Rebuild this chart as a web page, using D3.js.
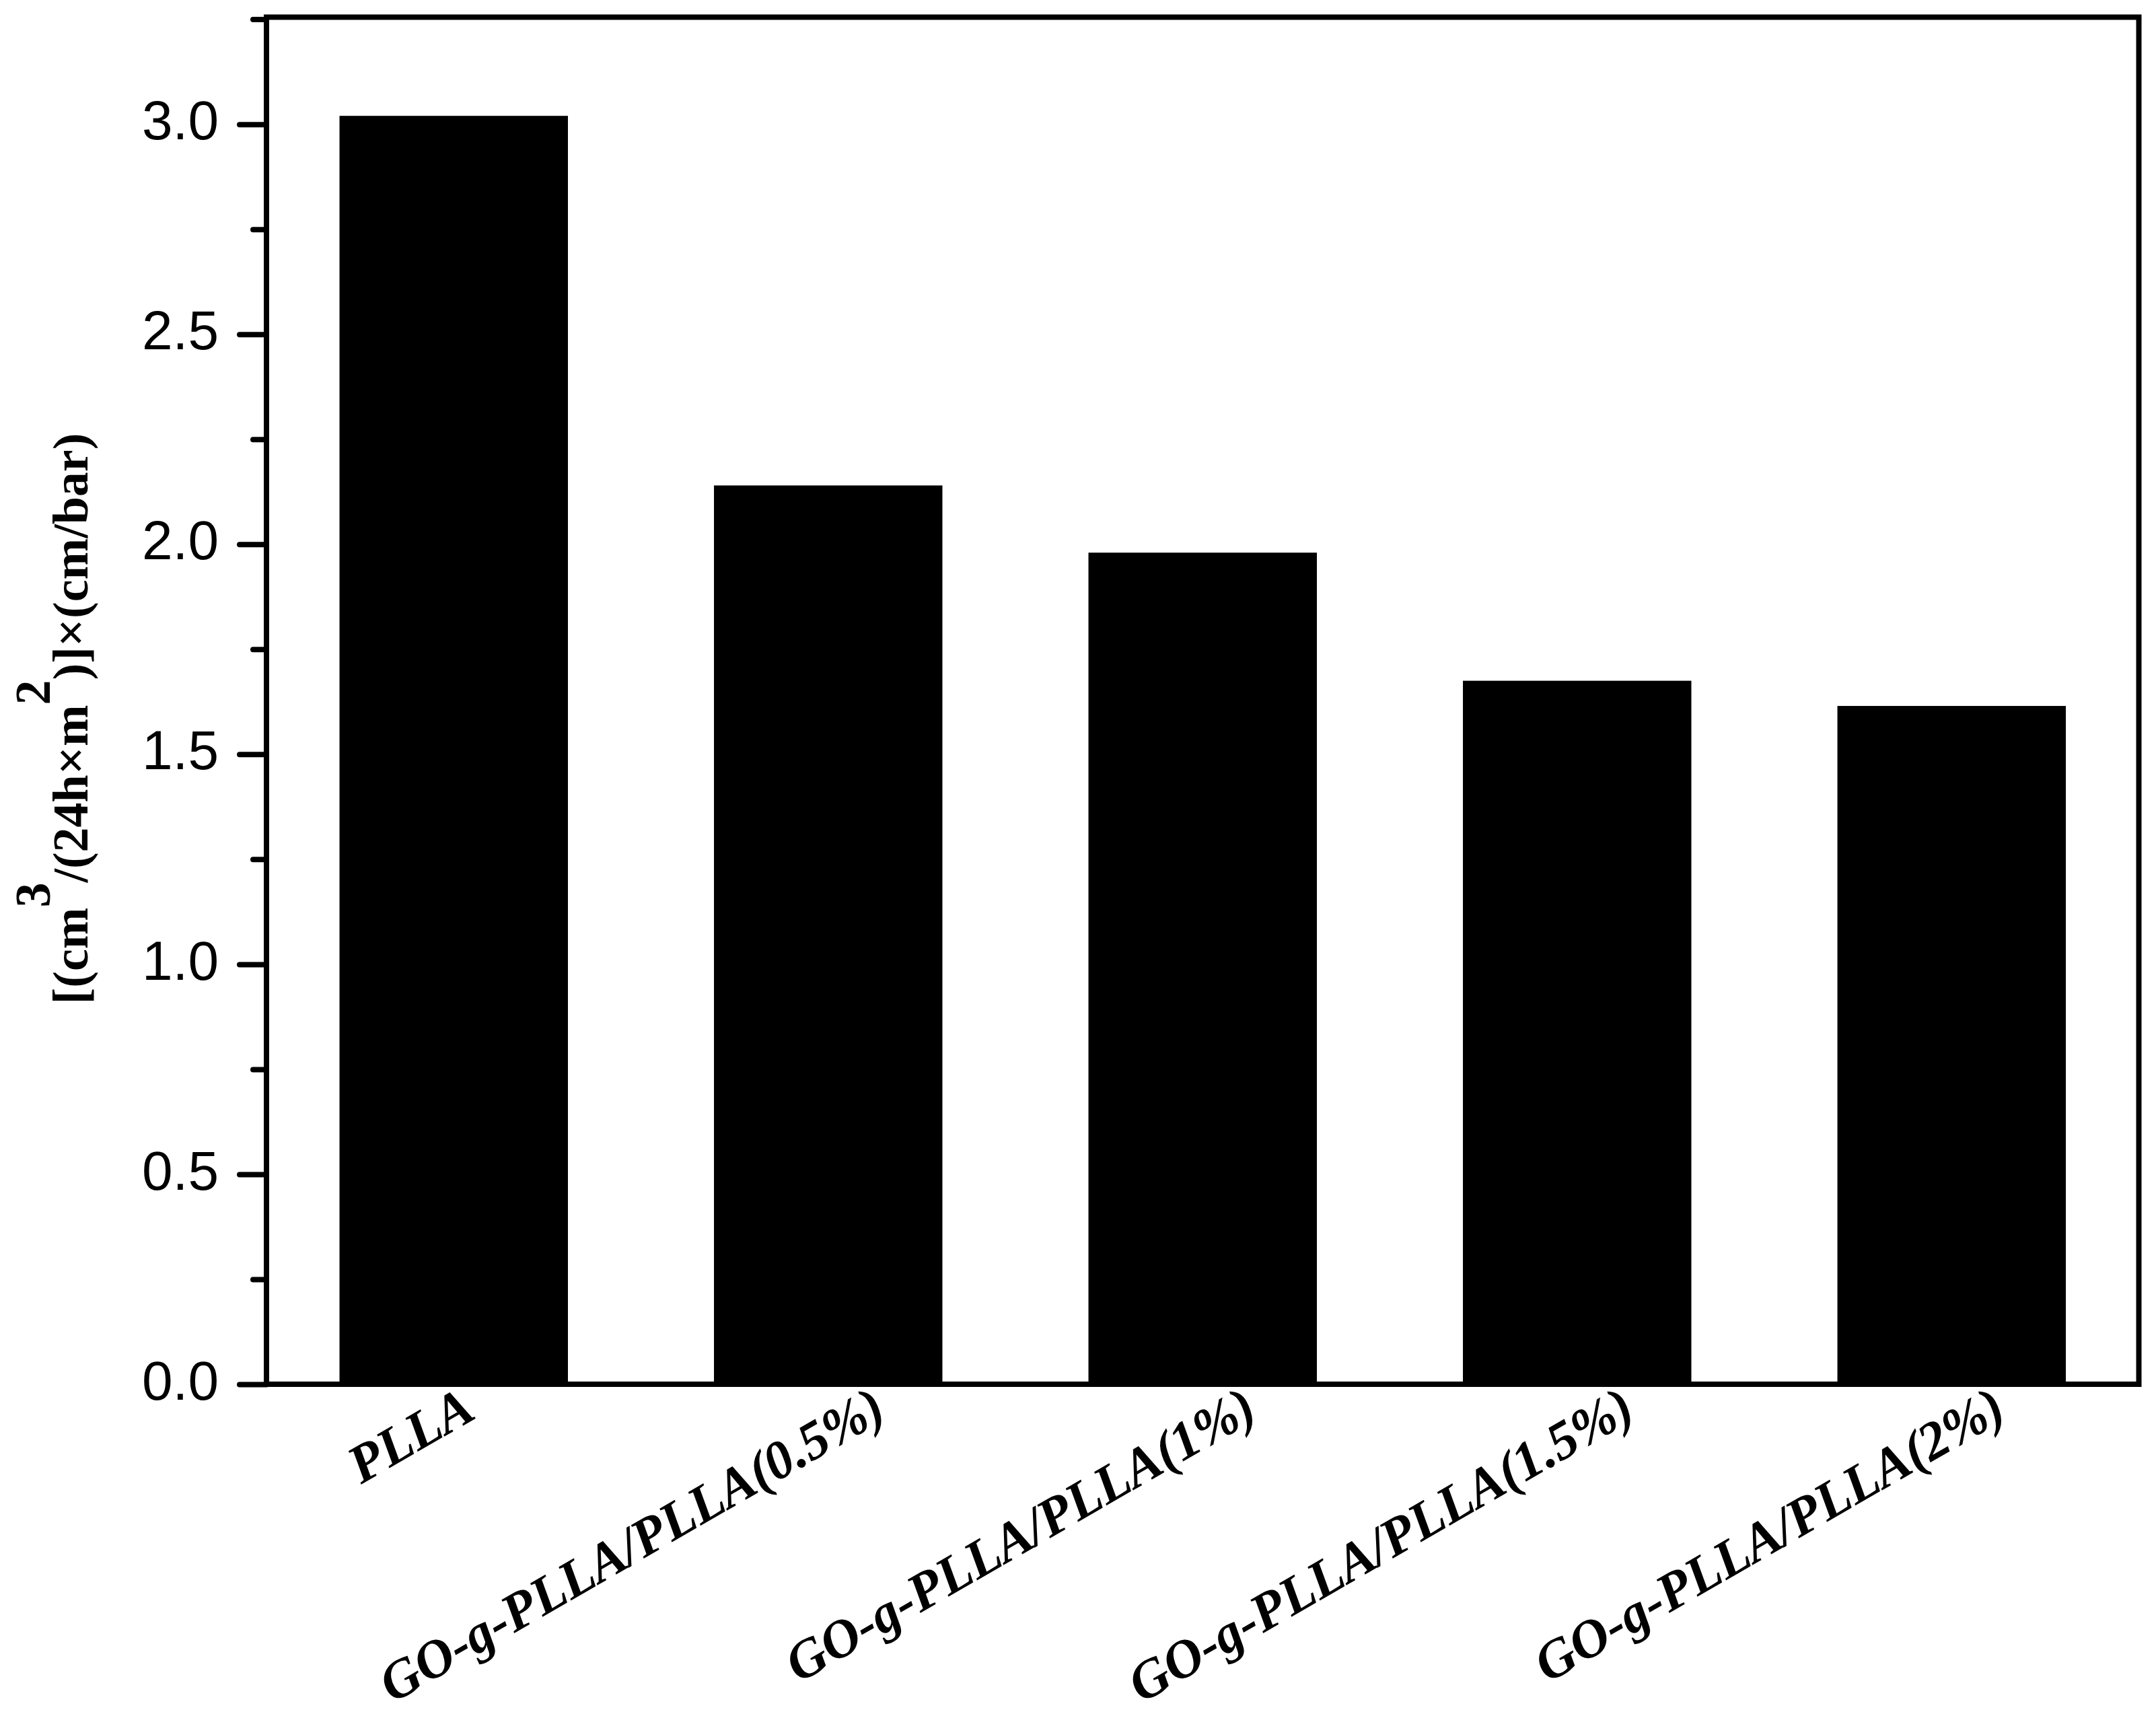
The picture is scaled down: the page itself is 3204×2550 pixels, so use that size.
<!DOCTYPE html>
<html>
<head>
<meta charset="utf-8">
<script src="https://cdn.jsdelivr.net/npm/d3@7/dist/d3.min.js"></script>
<style>
  html, body { margin: 0; padding: 0; background: #fff; }
  svg { display: block; }
</style>
</head>
<body>
<svg id="chart" width="3204" height="2550"></svg>
<script>
// ---- data ----
const categories = [
  "PLLA",
  "GO-g-PLLA/PLLA(0.5%)",
  "GO-g-PLLA/PLLA(1%)",
  "GO-g-PLLA/PLLA(1.5%)",
  "GO-g-PLLA/PLLA(2%)"
];
const values = [3.02, 2.14, 1.98, 1.675, 1.615];
const yMajorTicks = [0.0, 0.5, 1.0, 1.5, 2.0, 2.5, 3.0];
const yMinorTicks = [0.25, 0.75, 1.25, 1.75, 2.25, 2.75, 3.25];
const yDomain = [0, 3.255];

// ---- layout ----
const plot = { left: 396, right: 3178.5, top: 25.5, bottom: 2057 };

const svg = d3.select("#chart");

const x = d3.scaleBand()
  .domain(categories)
  .range([plot.left, plot.right])
  .paddingInner(0.39)
  .paddingOuter(0.195);

const y = d3.scaleLinear()
  .domain(yDomain)
  .range([plot.bottom, plot.top]);

// bars
svg.append("g")
  .selectAll("rect")
  .data(categories.map((c, i) => ({ c, v: values[i] })))
  .join("rect")
  .attr("x", d => x(d.c))
  .attr("width", x.bandwidth())
  .attr("y", d => y(d.v))
  .attr("height", d => y(0) - y(d.v))
  .attr("fill", "#000");

// y axis minor ticks
const minorAxis = d3.axisLeft(y)
  .tickValues(yMinorTicks)
  .tickSize(20)
  .tickFormat("");
const gMinor = svg.append("g")
  .attr("transform", `translate(${plot.left},0)`)
  .call(minorAxis);
gMinor.select(".domain").remove();
gMinor.selectAll(".tick line")
  .attr("stroke", "#000")
  .attr("stroke-width", 8)
  .attr("stroke-linecap", "round");

// y axis major ticks
const majorAxis = d3.axisLeft(y)
  .tickValues(yMajorTicks)
  .tickSize(40)
  .tickPadding(31)
  .tickFormat(d3.format(".1f"));
const gMajor = svg.append("g")
  .attr("transform", `translate(${plot.left},0)`)
  .call(majorAxis);
gMajor.select(".domain").remove();
gMajor.selectAll(".tick line")
  .attr("stroke", "#000")
  .attr("stroke-width", 8)
  .attr("stroke-linecap", "round");
gMajor.selectAll(".tick text")
  .attr("fill", "#000")
  .attr("dy", "0.27em")
  .style("font-family", "'Liberation Sans', Arial, sans-serif")
  .style("font-size", "82px");

// frame
svg.append("rect")
  .attr("x", plot.left)
  .attr("y", plot.top)
  .attr("width", plot.right - plot.left)
  .attr("height", plot.bottom - plot.top)
  .attr("fill", "none")
  .attr("stroke", "#000")
  .attr("stroke-width", 8)
  .attr("stroke-linejoin", "miter");

// x category labels (rotated -30deg, anchored near the bar centre)
const xLabels = svg.append("g")
  .selectAll("text")
  .data(categories)
  .join("text")
  .attr("text-anchor", "end")
  .style("font-family", "'Liberation Serif', 'Times New Roman', serif")
  .style("font-weight", "bold")
  .style("font-style", "italic")
  .style("font-size", "80px")
  .attr("fill", "#000")
  .text(d => d);
xLabels.each(function(d) {
  const len = this.getComputedTextLength();
  const ax = x(d) + x.bandwidth() / 2 + 19 + 0.083 * len;
  d3.select(this).attr("transform", `translate(${ax},${plot.bottom + 49}) rotate(-30)`);
});

// y axis title
const yTitle = svg.append("text")
  .attr("transform", `translate(130,1068) rotate(-90)`)
  .attr("text-anchor", "middle")
  .style("font-family", "'Liberation Serif', 'Times New Roman', serif")
  .style("font-weight", "bold")
  .style("font-size", "74px")
  .attr("fill", "#000");
yTitle.append("tspan").text("[(cm");
yTitle.append("tspan").attr("dy", "-0.76em").text("3");
yTitle.append("tspan").attr("dy", "0.76em").text("/(24h×m");
yTitle.append("tspan").attr("dy", "-0.76em").text("2");
yTitle.append("tspan").attr("dy", "0.76em").text(")]×(cm/bar)");
</script>
</body>
</html>
